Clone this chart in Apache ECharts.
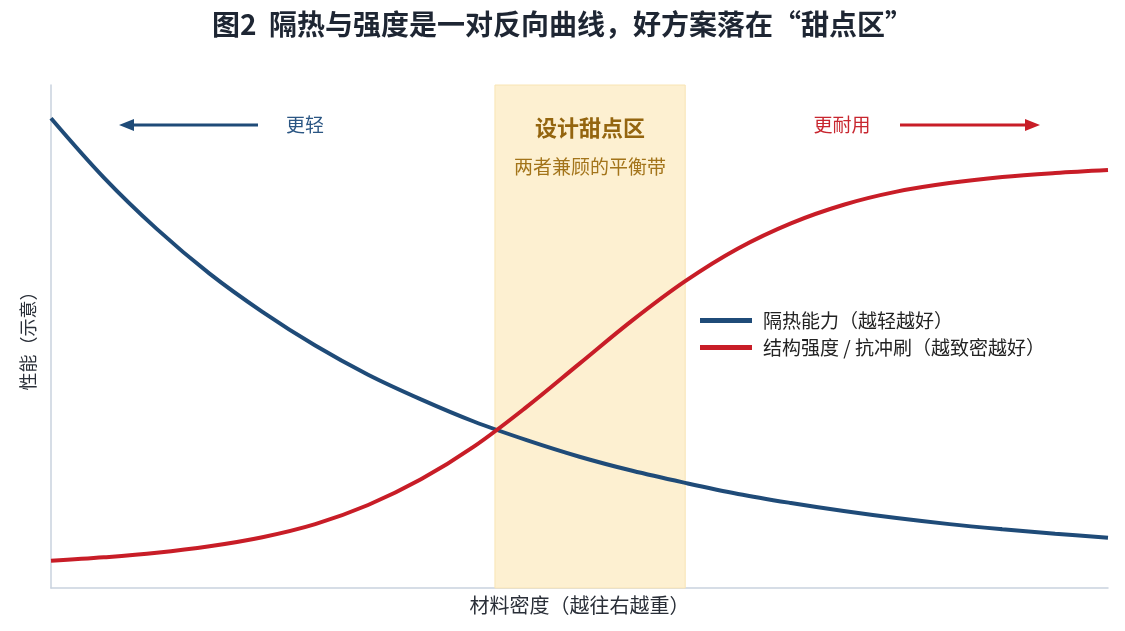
<!DOCTYPE html>
<html>
<head>
<meta charset="utf-8">
<script src="https://cdn.jsdelivr.net/npm/echarts@6/dist/echarts.min.js"></script>
<style>
html,body{margin:0;padding:0;background:#fff;}
#chart{width:1125px;height:631px;}
</style>
</head>
<body>
<div id="chart"></div>
<script>
// Data (schematic)
const titleText = '图2  隔热与强度是一对反向曲线，好方案落在“甜点区”';
const xValues = [0,0.5,1,1.5,2,2.5,3,3.5,4,4.5,5,5.5,6,6.5,7,7.5,8,8.5,9,9.5,10];
const insulation = [9.34,8.16,7.14,6.25,5.49,4.82,4.24,3.75,3.31,2.94,2.61,2.33,2.09,1.87,1.69,1.53,1.39,1.27,1.17,1.08,1.00];
const strength = [0.54,0.61,0.70,0.83,1.01,1.27,1.65,2.16,2.81,3.60,4.46,5.32,6.10,6.75,7.25,7.62,7.88,8.05,8.17,8.25,8.31];
const seriesNames = ['隔热能力（越轻越好）', '结构强度 / 抗冲刷（越致密越好）'];
const bandRange = [4.2, 6.0];
const bandTitle = '设计甜点区';
const bandSub = '两者兼顾的平衡带';
const leftNote = '更轻';
const rightNote = '更耐用';
const xName = '材料密度（越往右越重）';
const yName = '性能（示意）';

const FONT = '"Noto Sans CJK SC", "Noto Sans", sans-serif';
const BLUE = '#1f4b78';
const RED = '#c81d27';

const chart = echarts.init(document.getElementById('chart'));
const pair = (ys) => xValues.map((x, i) => [x, ys[i]]);

chart.setOption({
  backgroundColor: '#ffffff',
  textStyle: { fontFamily: FONT },
  title: {
    text: titleText,
    left: 'center',
    top: 5,
    textStyle: { fontFamily: FONT, fontSize: 28, fontWeight: 'bold', color: '#1e2633' }
  },
  grid: { left: 51, right: 17, top: 85, bottom: 43 },
  legend: {
    orient: 'vertical',
    left: 700,
    top: 311,
    padding: 0,
    itemWidth: 52,
    itemHeight: 5,
    itemGap: 8,
    icon: 'rect',
    data: seriesNames,
    textStyle: { fontFamily: FONT, fontSize: 19, color: '#222', padding: [0, 0, 0, 6] }
  },
  xAxis: {
    type: 'value', min: 0, max: 10,
    name: xName, nameLocation: 'middle', nameGap: 7,
    nameTextStyle: { fontFamily: FONT, fontSize: 20, color: '#2a2f38' },
    axisLine: { show: true, lineStyle: { color: '#c9d2de', width: 1.5 } },
    axisTick: { show: false }, axisLabel: { show: false }, splitLine: { show: false }
  },
  yAxis: {
    type: 'value', min: 0, max: 10,
    name: yName, nameLocation: 'middle', nameGap: 14,
    nameTextStyle: { fontFamily: FONT, fontSize: 18, color: '#2a2f38' },
    axisLine: { show: true, lineStyle: { color: '#c9d2de', width: 1.5 } },
    axisTick: { show: false }, axisLabel: { show: false }, splitLine: { show: false }
  },
  series: [
    {
      name: seriesNames[0], type: 'line', data: pair(insulation),
      smooth: 0.35, symbol: 'none', z: 3,
      lineStyle: { color: BLUE, width: 4 }, itemStyle: { color: BLUE },
      markArea: {
        silent: true, z: 1,
        itemStyle: { color: '#fdf0d1', borderColor: '#f8e4b4', borderWidth: 1 },
        data: [[{ xAxis: bandRange[0] }, { xAxis: bandRange[1] }]]
      }
    },
    {
      name: seriesNames[1], type: 'line', data: pair(strength),
      smooth: 0.35, symbol: 'none', z: 4,
      lineStyle: { color: RED, width: 4 }, itemStyle: { color: RED }
    }
  ],
  graphic: [
    { type: 'text', x: 590, y: 128, style: { text: bandTitle, font: 'bold 22px ' + FONT, fill: '#94650f', align: 'center', verticalAlign: 'middle' }, z: 10 },
    { type: 'text', x: 590, y: 167, style: { text: bandSub, font: '19px ' + FONT, fill: '#a3741a', align: 'center', verticalAlign: 'middle' }, z: 10 },
    { type: 'line', shape: { x1: 258, y1: 125, x2: 130, y2: 125 }, style: { stroke: BLUE, lineWidth: 3 }, z: 10 },
    { type: 'polygon', shape: { points: [[119, 125], [134, 119], [134, 131]] }, style: { fill: BLUE }, z: 10 },
    { type: 'text', x: 305, y: 125, style: { text: leftNote, font: '19px ' + FONT, fill: '#2b5683', align: 'center', verticalAlign: 'middle' }, z: 10 },
    { type: 'line', shape: { x1: 900, y1: 125, x2: 1028, y2: 125 }, style: { stroke: RED, lineWidth: 3 }, z: 10 },
    { type: 'polygon', shape: { points: [[1040, 125], [1025, 119], [1025, 131]] }, style: { fill: RED }, z: 10 },
    { type: 'text', x: 842, y: 125, style: { text: rightNote, font: '19px ' + FONT, fill: '#c8262f', align: 'center', verticalAlign: 'middle' }, z: 10 }
  ]
});
</script>
</body>
</html>
